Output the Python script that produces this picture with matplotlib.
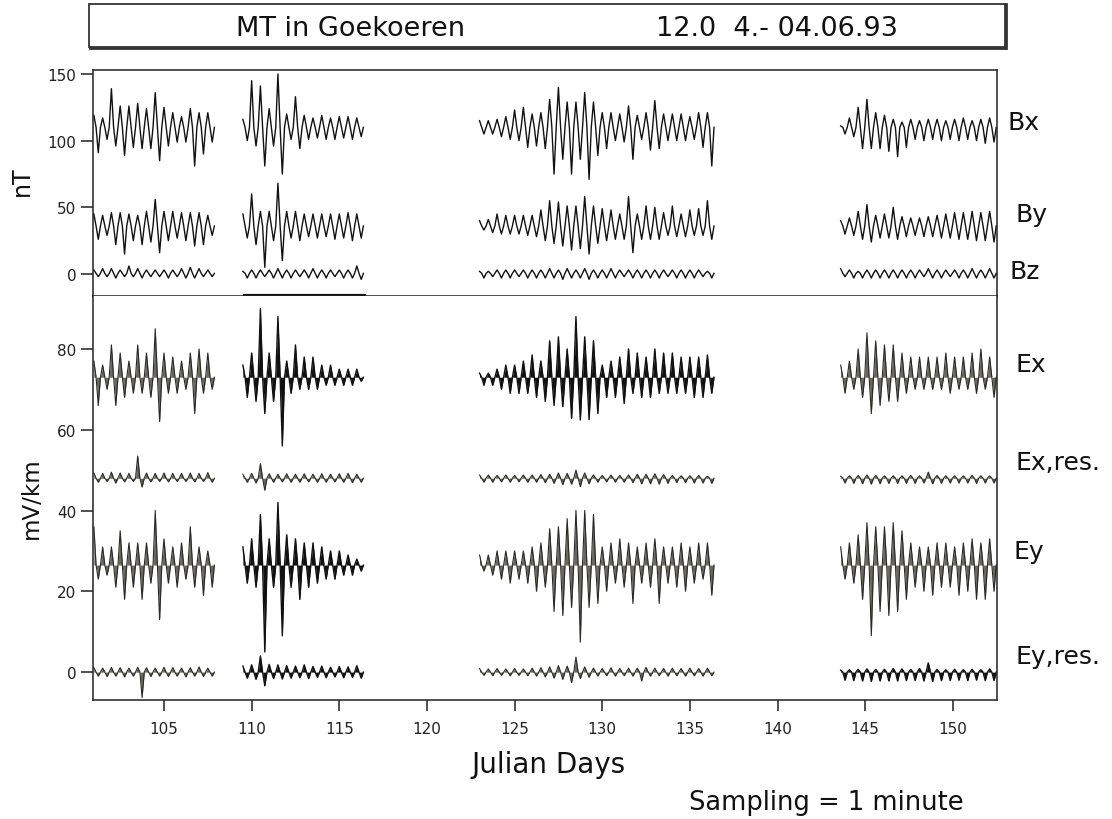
"""
MT in Goekoeren - magnetic (Bx, By, Bz) and electric (Ex, Ey + residuals) time series
"""
import matplotlib
matplotlib.use('Agg')
import matplotlib.pyplot as plt
from matplotlib.patches import Rectangle
import numpy as np

plt.rcParams['font.family'] = 'DejaVu Sans'

# recording segments (start day) and half-day reading step
SEG_START = [101.0, 109.5, 123.0, 143.6]
STEP = 0.5
TICKS_X = [105, 110, 115, 120, 125, 130, 135, 140, 145, 150]

# per half day: highest / lowest excursion, per segment
BX_BASE = 110
BX_HI = [
    [119, 117, 139, 126, 126, 128, 124, 136, 125, 121, 118, 124, 121, 121],
    [116, 145, 141, 124, 150, 120, 133, 119, 117, 119, 117, 118, 118, 117],
    [115, 115, 116, 118, 123, 125, 120, 121, 131, 140, 129, 129, 136, 129, 121, 121, 120, 126, 119, 121, 130, 120, 120, 120, 118, 121, 121],
    [111, 117, 125, 131, 121, 119, 116, 114, 116, 115, 116, 116, 115, 116, 117, 115, 116, 117],
]
BX_LO = [
    [91, 101, 96, 89, 95, 94, 94, 85, 96, 99, 99, 81, 90, 99],
    [100, 96, 81, 96, 75, 101, 94, 101, 102, 101, 101, 102, 101, 103],
    [105, 105, 103, 101, 100, 95, 96, 94, 75, 86, 75, 86, 71, 89, 94, 100, 99, 86, 101, 93, 94, 100, 100, 100, 101, 95, 81],
    [105, 103, 94, 94, 94, 92, 88, 95, 101, 100, 101, 100, 101, 100, 101, 100, 98, 99],
]

BY_BASE = 36
BY_HI = [
    [45, 44, 46, 46, 45, 44, 47, 56, 47, 47, 46, 46, 46, 44],
    [45, 60, 47, 47, 68, 47, 47, 45, 45, 45, 45, 45, 46, 45],
    [40, 41, 45, 44, 44, 44, 44, 48, 55, 54, 51, 51, 58, 51, 49, 48, 45, 58, 45, 51, 50, 46, 51, 45, 48, 49, 55],
    [40, 42, 47, 52, 44, 45, 50, 43, 42, 42, 43, 44, 45, 46, 46, 47, 46, 47],
]
BY_LO = [
    [26, 29, 22, 15, 25, 22, 24, 16, 25, 27, 25, 21, 22, 29],
    [27, 22, 5, 25, 10, 27, 25, 28, 27, 28, 26, 27, 25, 27],
    [33, 31, 30, 30, 30, 29, 28, 25, 23, 21, 18, 19, 15, 23, 25, 26, 26, 16, 26, 26, 26, 29, 28, 28, 29, 29, 26],
    [30, 29, 26, 24, 27, 27, 26, 28, 29, 28, 28, 27, 27, 26, 26, 25, 25, 24],
]

BZ_BASE = 0.5
BZ_HI = [
    [3, 4, 4, 3, 6, 4, 3, 3, 3, 3, 4, 5, 4, 3],
    [2, 3, 3, 3, 4, 3, 3, 3, 4, 3, 3, 3, 3, 6],
    [2, 2, 3, 3, 3, 3, 3, 3, 4, 3, 4, 3, 4, 3, 3, 4, 3, 3, 3, 3, 3, 3, 3, 3, 3, 3, 2],
    [4, 3, 2, 3, 3, 3, 3, 3, 3, 3, 4, 3, 3, 3, 3, 4, 3, 4],
]
BZ_LO = [
    [-2, -2, -3, -2, -2, -3, -2, -2, -3, -2, -3, -3, -2, -2],
    [-3, -3, -2, -3, -3, -3, -2, -3, -3, -3, -2, -3, -3, -4],
    [-3, -2, -3, -3, -2, -3, -3, -3, -3, -4, -3, -3, -4, -3, -3, -3, -2, -3, -3, -3, -3, -2, -3, -3, -3, -2, -3],
    [-2, -3, -3, -3, -3, -3, -3, -3, -3, -2, -3, -3, -2, -3, -3, -3, -3, -3],
]

EX_BASE = 73
EX_HI = [
    [77, 76, 81, 79, 77, 81, 79, 85, 79, 78, 77, 79, 80, 79],
    [76, 79, 90, 79, 88, 77, 81, 78, 78, 76, 76, 75, 75, 75],
    [74, 74, 75, 76, 76, 77, 78.5, 77, 82, 83, 80, 88, 83, 82, 76, 77, 78, 80, 79, 78, 80, 79, 79, 78, 78, 78, 78.5],
    [76, 77, 80, 84, 82, 81, 81, 79, 78, 78, 78, 78, 79, 78, 78, 79, 80, 78],
]
EX_LO = [
    [66, 70, 66, 68, 69, 69, 68, 62, 69, 69, 70, 64, 69, 70],
    [68, 67, 64, 67, 56, 69, 70, 70, 70, 71, 71, 71, 71, 72],
    [71, 71, 70, 69, 69, 69, 68, 67, 66, 65.7, 62.8, 62.4, 62.5, 64, 68, 68, 66.5, 69, 68, 68, 69, 69, 69, 69, 68, 68, 69],
    [69, 70, 68, 64, 66, 67, 67, 69, 70, 70, 70, 70, 69, 70, 70, 69, 70, 68],
]

EXR_BASE = 48
EXR_HI = [
    [49.3, 49.2, 49.5, 49.3, 49.2, 53.5, 49.3, 49.2, 49.3, 49.2, 49.2, 49.3, 49.2, 49.4],
    [49.0, 49.2, 51.6, 49.1, 49.0, 49.1, 49.0, 49.1, 49.0, 49.1, 49.0, 49.1, 49.2, 49.0],
    [48.8, 48.8, 48.7, 48.8, 48.7, 48.8, 48.8, 48.9, 49.0, 49.3, 49.2, 50.0, 49.3, 48.8, 48.7, 48.8, 48.7, 48.8, 49.0, 49.0, 49.1, 48.9, 48.7, 48.6, 48.6, 48.7, 48.5],
    [48.5, 48.6, 48.7, 48.8, 48.7, 48.6, 48.6, 48.6, 48.7, 48.6, 49.5, 48.7, 48.6, 48.6, 48.6, 48.7, 48.6, 48.6],
]
EXR_LO = [
    [47.0, 47.2, 46.8, 47.1, 47.2, 45.8, 47.1, 47.2, 47.1, 47.2, 47.2, 47.1, 47.2, 47.0],
    [47.0, 46.8, 45.0, 47.0, 47.1, 47.0, 47.0, 47.1, 47.0, 47.0, 47.1, 47.0, 46.9, 47.0],
    [47.0, 47.0, 47.1, 47.0, 47.1, 47.0, 47.0, 46.9, 46.7, 46.4, 46.5, 45.9, 46.6, 47.0, 47.1, 47.0, 47.0, 46.9, 46.6, 46.6, 46.5, 46.7, 46.9, 46.9, 46.8, 46.8, 46.7],
    [46.8, 46.7, 46.6, 46.5, 46.6, 46.7, 46.7, 46.7, 46.7, 46.8, 46.6, 46.7, 46.8, 46.8, 46.8, 46.7, 46.8, 46.8],
]

EY_BASE = 26.5
EY_HI = [
    [36, 31, 31, 35, 32, 32, 32, 40, 33, 31, 32, 36, 31, 30],
    [31, 33, 39, 33, 42, 34, 33, 32, 32, 31, 30, 30, 29, 28],
    [29, 29, 30, 30, 30, 30, 31, 32, 35.5, 36, 38, 40, 40, 39, 31, 32, 33, 32, 31, 32, 33, 31, 31, 32, 31, 32, 32],
    [31, 32, 34, 37, 36, 36, 37, 35, 32, 31, 31, 32, 32, 31, 32, 33, 32, 33],
]
EY_LO = [
    [23, 24, 21, 18, 21, 18, 22, 13, 22, 21, 23, 21, 19, 21],
    [22, 21, 5, 21, 9, 21, 18, 21, 22, 23, 23, 24, 24, 25],
    [25, 24, 23, 22, 23, 22, 20, 21, 15, 14, 16, 7.4, 16, 17, 20, 22, 21, 17, 22, 21, 17, 22, 21, 20, 22, 23, 19],
    [23, 22, 18, 9, 15, 14, 15, 18, 21, 20, 19, 21, 21, 19, 20, 18, 18, 20],
]

EYR_BASE = 0
EYR_HI = [
    [1.1, 1.0, 1.2, 1.1, 1.0, 1.2, 1.1, 1.0, 1.2, 1.1, 1.0, 1.1, 1.3, 1.0],
    [1.5, 1.8, 4.0, 1.9, 1.8, 1.6, 1.5, 1.8, 1.4, 1.5, 1.2, 1.4, 1.3, 1.6],
    [0.9, 0.8, 0.9, 0.8, 0.9, 0.8, 1.0, 1.1, 1.3, 1.6, 1.5, 3.7, 1.3, 1.0, 0.9, 1.1, 0.9, 1.0, 1.0, 1.2, 1.0, 0.9, 1.0, 0.9, 1.0, 0.9, 1.0],
    [0.5, 0.6, 0.7, 0.8, 0.7, 0.7, 0.9, 0.8, 0.7, 0.9, 2.3, 0.7, 0.6, 0.7, 0.6, 0.7, 0.6, 0.8],
]
EYR_LO = [
    [-1.0, -1.1, -1.0, -1.2, -1.0, -6.3, -1.1, -1.0, -1.1, -1.0, -1.2, -1.0, -1.1, -1.0],
    [-1.5, -1.8, -3.4, -1.6, -1.7, -1.5, -1.4, -1.6, -1.3, -1.4, -1.2, -1.4, -1.3, -1.5],
    [-0.8, -0.9, -0.8, -0.9, -0.8, -0.9, -1.0, -1.2, -1.5, -1.8, -2.6, -1.6, -1.3, -1.0, -0.9, -1.0, -0.9, -1.0, -2.2, -1.0, -0.9, -1.0, -0.9, -1.0, -0.9, -1.0, -0.9],
    [-2.0, -2.1, -2.2, -2.3, -2.2, -2.2, -2.2, -2.1, -2.1, -2.2, -2.3, -2.1, -2.1, -2.0, -2.1, -2.0, -2.1, -2.1],
]

GREY = '#68685c'
EDGE = '#2a2a25'
INK = '#111111'


def zigzag(start, hi, lo, base):
    """spike up to hi, back to base, down to lo, back to base - one per half day"""
    hi = np.asarray(hi, float)
    lo = np.asarray(lo, float)
    t = start + STEP * np.arange(len(hi))
    b = np.full(len(hi), float(base))
    x = np.column_stack([t, t + STEP / 4, t + STEP / 2, t + 3 * STEP / 4]).ravel()
    y = np.column_stack([hi, b, lo, b]).ravel()
    return x, y


def draw_channel(ax, base, his, los, styles):
    for start, hi, lo, style in zip(SEG_START, his, los, styles):
        x, y = zigzag(start, hi, lo, base)
        if style == 'line':
            ax.plot(x, y, color=INK, lw=1.0)
        elif style == 'black':
            ax.fill_between(x, y, base, color=INK, lw=0)
            ax.plot(x, y, color=INK, lw=1.0)
        else:
            ax.fill_between(x, y, base, color=GREY, lw=0)
            ax.plot(x, y, color=EDGE, lw=0.8)


W, H = 1112, 820
fig = plt.figure(figsize=(W / 100, H / 100), dpi=100)


def fx(px):
    return px / W


def fy(py):
    return 1 - py / H


ax_b = fig.add_axes([fx(93), fy(297), fx(997) - fx(93), fy(71) - fy(297)])
ax_e = fig.add_axes([fx(93), fy(701), fx(997) - fx(93), fy(297) - fy(701)])

for ax in (ax_b, ax_e):
    ax.set_xlim(100.95, 152.52)
    for s in ax.spines.values():
        s.set_linewidth(1.1)
        s.set_color('#222222')
    ax.tick_params(axis='y', direction='out', length=9, width=1.1,
                   labelsize=11, pad=3, colors='#222222')

ax_b.set_ylim(-16.5, 153)
ax_b.set_yticks([0, 50, 100, 150])
ax_b.set_xticks([])

ax_e.set_ylim(-6.9, 93.1)
ax_e.set_yticks([0, 20, 40, 60, 80])
ax_e.spines['top'].set_visible(False)
ax_e.set_xticks(TICKS_X)
ax_e.tick_params(axis='x', direction='out', length=8, width=1.1,
                 labelsize=11, pad=7, colors='#222222')

# magnetic channels
draw_channel(ax_b, BX_BASE, BX_HI, BX_LO, ['line'] * 4)
draw_channel(ax_b, BY_BASE, BY_HI, BY_LO, ['line'] * 4)
draw_channel(ax_b, BZ_BASE, BZ_HI, BZ_LO, ['line'] * 4)

# electric channels and residuals
draw_channel(ax_e, EX_BASE, EX_HI, EX_LO, ['grey', 'black', 'black', 'grey'])
draw_channel(ax_e, EXR_BASE, EXR_HI, EXR_LO, ['grey'] * 4)
draw_channel(ax_e, EY_BASE, EY_HI, EY_LO, ['grey', 'black', 'grey', 'grey'])
draw_channel(ax_e, EYR_BASE, EYR_HI, EYR_LO, ['grey', 'black', 'grey', 'black'])

# bold stretch of the panel divider under the second segment (as on the scan)
seg2_end = SEG_START[1] + STEP * len(BX_HI[1])
ax_b.plot([SEG_START[1], seg2_end], [0, 0], color=INK, lw=3,
          transform=ax_b.get_xaxis_transform(), clip_on=False, solid_capstyle='butt')

# channel names on the right
for name, px, py in [('Bx', 1008, 123), ('By', 1015, 215), ('Bz', 1010, 272),
                     ('Ex', 1015, 365), ('Ex,res.', 1015, 463),
                     ('Ey', 1013, 552), ('Ey,res.', 1015, 657)]:
    fig.text(fx(px), fy(py), name, fontsize=18, ha='left', va='center', color='#111111')

fig.text(fx(22), fy(181), 'nT', fontsize=17, rotation=90, ha='center', va='center', color='#111111')
fig.text(fx(31), fy(498), 'mV/km', fontsize=16.5, rotation=90, ha='center', va='center', color='#111111')
fig.text(fx(548), fy(765), 'Julian Days', fontsize=20, ha='center', va='center', color='#111111')
fig.text(fx(826), fy(803), 'Sampling = 1 minute', fontsize=18.5, ha='center', va='center', color='#111111')

# title box
box = Rectangle((fx(89), fy(48)), fx(1005) - fx(89), fy(5) - fy(48),
                transform=fig.transFigure, facecolor='white', edgecolor='#222222', lw=1.2)
fig.patches.append(box)
fig.add_artist(plt.Line2D([fx(90), fx(1005)], [fy(48.5), fy(48.5)], color='#333333', lw=2.0))
fig.add_artist(plt.Line2D([fx(1005.5), fx(1005.5)], [fy(5), fy(48.5)], color='#333333', lw=2.0))
fig.text(fx(351), fy(29), 'MT in Goekoeren', fontsize=19.5, ha='center', va='center', color='#111111')
fig.text(fx(777), fy(29), '12.0  4.- 04.06.93', fontsize=19.5, ha='center', va='center', color='#111111')

fig.savefig('out.png', dpi=100, facecolor='white')
